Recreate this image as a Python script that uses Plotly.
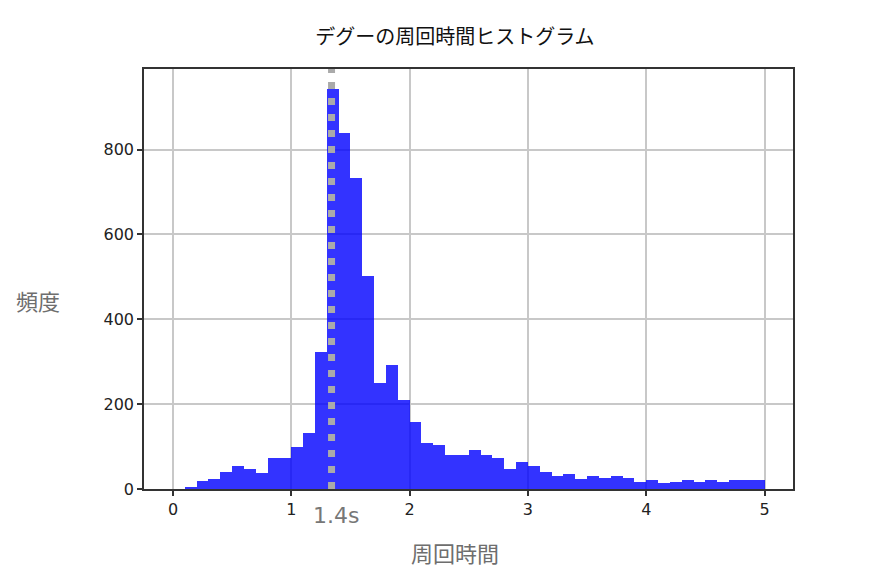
import plotly.graph_objects as go

# histogram of lap times, bins of 0.1 s (left edges) and counts
bin_left = [round(i * 0.1, 1) for i in range(50)]
counts = [0, 5, 18, 24, 41, 55, 46, 37, 73, 73,
          100, 133, 324, 944, 839, 733, 501, 251, 292, 209,
          159, 109, 104, 81, 81, 91, 80, 72, 46, 63,
          54, 39, 31, 35, 23, 31, 27, 31, 27, 17,
          22, 13, 17, 22, 17, 22, 17, 22, 22, 22]
bin_width = 0.1
peak_time = 1.34
peak_label = "1.4s"

title_text = "デグーの周回時間ヒストグラム"
x_title = "周回時間"
y_title = "頻度"

font_jp = "Noto Sans CJK JP"

# the page puts the figure 8px in from the corner, so margins are set for that
fig = go.Figure()
fig.add_trace(go.Bar(
    x=bin_left, y=counts, width=bin_width, offset=0,
    marker=dict(color="rgba(0,0,255,0.8)", line=dict(width=0)),
    showlegend=False, hoverinfo="x+y",
))

# dotted line at the peak
fig.add_shape(type="line", x0=peak_time, x1=peak_time, y0=0, y1=1,
              xref="x", yref="paper",
              line=dict(color="#aaaaaa", width=7, dash="7px,9px"))

fig.add_annotation(x=peak_time + 0.035, y=0, xref="x", yref="paper",
                   yshift=-26, text=peak_label, showarrow=False,
                   xanchor="center", yanchor="middle",
                   font=dict(family="DejaVu Sans", size=22, color="#777777"))

fig.add_annotation(x=(30 - 136) / 649, y=0.45, xref="paper", yref="paper", text=y_title,
                   xanchor="center", yanchor="middle", showarrow=False,
                   font=dict(family=font_jp, size=22, color="#6e6e6e"))

fig.add_annotation(x=0.479, y=0, xref="paper", yref="paper", text=x_title,
                   xanchor="center", yanchor="middle", yshift=-63, showarrow=False,
                   font=dict(family=font_jp, size=22, color="#6e6e6e"))

axis_style = dict(showline=True, mirror=True, linecolor="#333333", linewidth=1.5,
                  ticks="outside", ticklen=5, tickcolor="#333333", tickwidth=1.5,
                  showgrid=True, gridcolor="#c8c8c8", gridwidth=1.5, zeroline=False,
                  tickfont=dict(family="DejaVu Sans", size=16, color="#222222"))

fig.update_xaxes(range=[-0.245, 5.24], dtick=1, tick0=0, **axis_style)
fig.update_yaxes(range=[0, 990], dtick=200, tick0=0, **axis_style)

fig.update_layout(
    width=876, height=582,
    margin=dict(l=136, r=91, t=61, b=101),
    paper_bgcolor="white", plot_bgcolor="white",
    bargap=0,
    title=dict(text=title_text, x=0.479, xref="paper", y=1 - 29 / 582, yref="container",
               xanchor="center", yanchor="middle",
               font=dict(family=font_jp, size=20, color="#111111")),
)

fig.write_html("out.html")
